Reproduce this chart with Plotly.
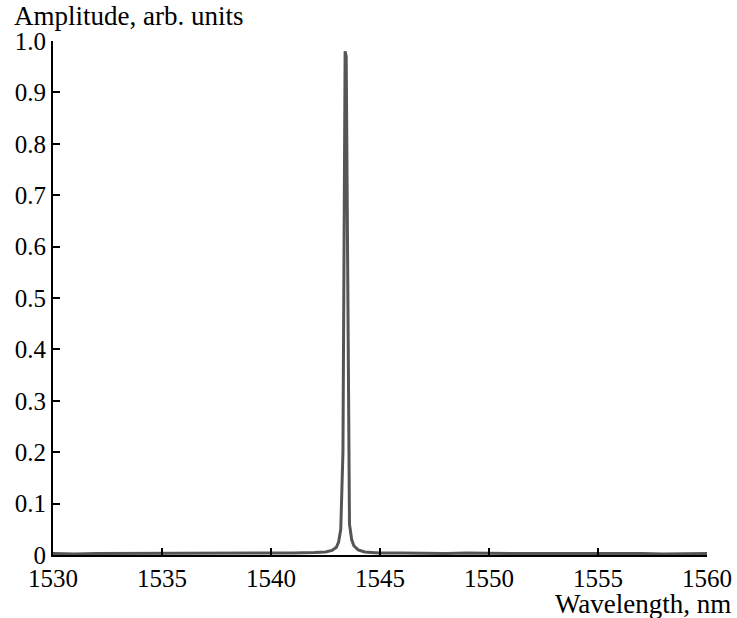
import plotly.graph_objects as go

wavelength = [1530, 1531, 1532, 1533, 1534, 1535, 1536, 1537, 1538, 1539, 1540, 1541, 1542,
              1542.5, 1542.8, 1543.0, 1543.1, 1543.2, 1543.3, 1543.35, 1543.4, 1543.45, 1543.5,
              1543.55, 1543.6, 1543.7, 1543.8, 1544.0, 1544.3, 1544.6, 1545, 1546, 1547, 1548,
              1549, 1550, 1551, 1552, 1553, 1554, 1555, 1556, 1557, 1558, 1559, 1560]
amplitude = [0.003, 0.002, 0.003, 0.003, 0.004, 0.003, 0.003, 0.004, 0.003, 0.003, 0.004, 0.004, 0.005,
             0.006, 0.009, 0.015, 0.025, 0.05, 0.2, 0.62, 0.98, 0.97, 0.6,
             0.2, 0.06, 0.03, 0.018, 0.01, 0.006, 0.005, 0.004, 0.004, 0.003, 0.003,
             0.004, 0.003, 0.003, 0.003, 0.003, 0.004, 0.003, 0.003, 0.003, 0.002, 0.003, 0.003]

x_ticks = [1530, 1535, 1540, 1545, 1550, 1555, 1560]
y_ticks = [0, 0.1, 0.2, 0.3, 0.4, 0.5, 0.6, 0.7, 0.8, 0.9, 1.0]
y_tick_text = ["0", "0.1", "0.2", "0.3", "0.4", "0.5", "0.6", "0.7", "0.8", "0.9", "1.0"]

font_family = "Liberation Serif, Times New Roman, DejaVu Serif, serif"

fig = go.Figure()
fig.add_trace(go.Scatter(x=wavelength, y=amplitude, mode="lines",
                         line=dict(color="#555555", width=3), showlegend=False))

fig.update_layout(
    template="none",
    width=737, height=618, autosize=False,
    margin=dict(l=53, r=30, t=41, b=63),
    paper_bgcolor="white", plot_bgcolor="white",
    font=dict(family=font_family, size=25, color="black"),
    xaxis=dict(range=[1530, 1560], tickvals=x_ticks, ticks="inside", ticklen=7, tickwidth=2,
               tickcolor="black", showline=True, linecolor="black", linewidth=2,
               showgrid=False, zeroline=False, automargin=False,
               tickfont=dict(size=25, family=font_family)),
    yaxis=dict(range=[0, 1.0], tickvals=y_ticks, ticktext=y_tick_text, ticks="inside",
               ticklen=7, tickwidth=2, tickcolor="black", showline=True, linecolor="black",
               linewidth=2, showgrid=False, zeroline=False, automargin=False,
               tickfont=dict(size=25, family=font_family)),
    annotations=[
        dict(text="Amplitude, arb. units", xref="paper", yref="paper", x=-0.063, y=1.0,
             xanchor="left", yanchor="middle", yshift=25, showarrow=False,
             font=dict(size=27, family=font_family)),
        dict(text="Wavelength, nm", xref="paper", yref="paper", x=1.039, y=0,
             xanchor="right", yanchor="middle", yshift=-49, showarrow=False,
             font=dict(size=27, family=font_family)),
    ],
)

fig.write_html("out.html")
